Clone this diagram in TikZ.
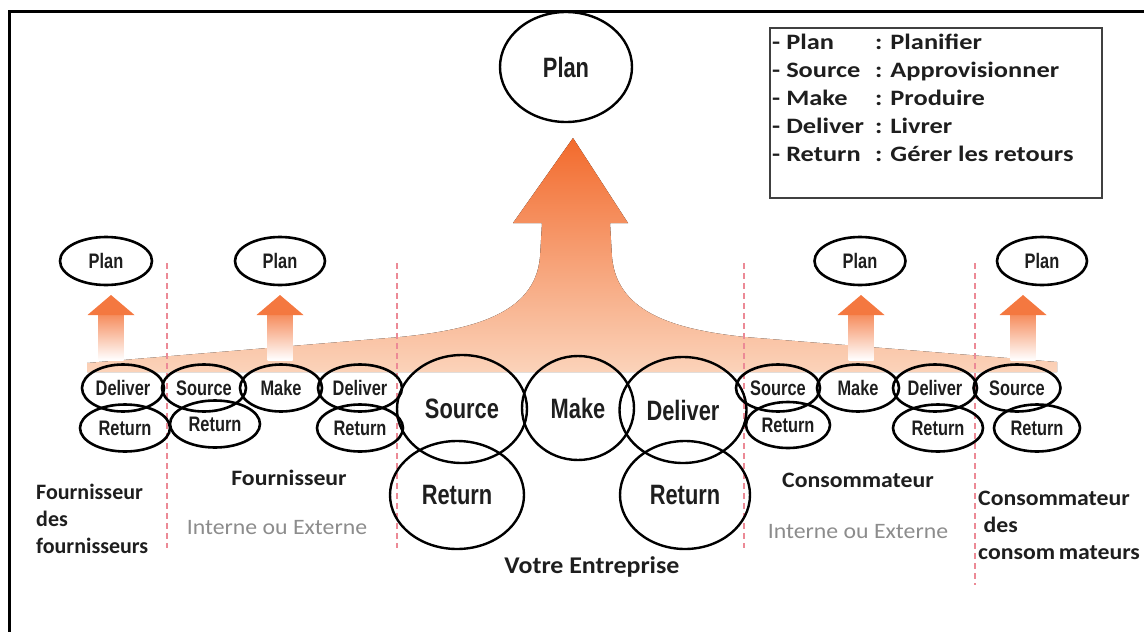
\documentclass[tikz,border=0pt]{standalone}
\usepackage{fontspec}
\setmainfont{Carlito}
\newfontfamily\narrowf[FakeStretch=0.78]{Liberation Sans}
\newfontfamily\capf[FakeStretch=1.08]{Carlito}
\newfontfamily\legf[FakeStretch=1.2]{Carlito}
\usetikzlibrary{shapes.geometric}
\definecolor{arrowtop}{HTML}{F26A2C}
\definecolor{arrowbot}{HTML}{FBD3BA}
\definecolor{dashred}{HTML}{EC8A96}
\definecolor{labelgray}{HTML}{8C8C8C}
\definecolor{ink}{HTML}{1E1E1E}
\definecolor{headcol}{HTML}{F47840}
\begin{document}
\begin{tikzpicture}[x=1pt,y=-1pt,
 ell/.style={ellipse, draw=black, line width=2.6pt, inner sep=0pt, text=ink, font=\narrowf\bfseries\fontsize{21}{21}\selectfont},
 bigell/.style={ell, line width=2.4pt, font=\narrowf\bfseries\fontsize{28}{28}\selectfont},
 caption/.style={font=\capf\bfseries\fontsize{22}{27}\selectfont, text=ink, inner sep=0pt},
 sub/.style={font=\capf\fontsize{22}{26}\selectfont, text=labelgray, inner sep=0pt},
 sepline/.style={dashred, line width=1.4pt, dash pattern=on 6pt off 4pt},
 bigarrow/.style={top color=arrowtop, bottom color=arrowbot, draw=none},
 shaftshade/.style={top color=headcol!85, bottom color=white, draw=none},
]
\useasboundingbox (0,0) rectangle (1144,632);
% frame
\draw[line width=3pt] (9,632) -- (9,11) -- (1144,11);
% big arrow / fan
\fill[bigarrow] (87,372) -- (87,363) -- (400,337) .. controls (470,330) and (535,315) .. (540,257) -- (542,223) -- (513,223) -- (573,138) -- (628,223) -- (610,223) -- (612,257) .. controls (617,315) and (680,330) .. (745,337) -- (1057,362) -- (1057,372) -- cycle;
% small arrows
\foreach \ax in {111,280,861,1023}{
 \shade[shaftshade] (\ax-12.5,314.5) rectangle (\ax+12.5,360);
 \fill[headcol] (\ax-23.5,315) -- (\ax,295) -- (\ax+23.5,315) -- cycle;
}
% separators
\draw[sepline] (167,263) -- (167,548);
\draw[sepline] (397,263) -- (397,548);
\draw[sepline] (744,263) -- (744,548);
\draw[sepline] (975,263) -- (975,585);
% plans
\node[bigell, minimum width=132pt, minimum height=110pt] (plan) at (566,67) {Plan};
\node[ell, minimum width=92pt, minimum height=48pt] (p1) at (106,261) {Plan};
\node[ell, minimum width=90pt, minimum height=48pt] (p2) at (280,261) {Plan};
\node[ell, minimum width=91pt, minimum height=48pt] (p3) at (860,261) {Plan};
\node[ell, minimum width=90pt, minimum height=48pt] (p4) at (1042,261) {Plan};
% small ellipses
\node[ell, minimum width=82pt, minimum height=47pt] (d1) at (123,388) {Deliver};
\node[ell, minimum width=90pt, minimum height=47pt] (r1) at (125,428) {Return};
\node[ell, minimum width=84pt, minimum height=47pt] (s2) at (204,388) {Source};
\node[ell, minimum width=90pt, minimum height=47pt] (r2) at (215,424) {Return};
\node[ell, minimum width=82pt, minimum height=47pt] (m2) at (281,388) {Make};
\node[ell, minimum width=84pt, minimum height=47pt] (d2) at (360,388) {Deliver};
\node[ell, minimum width=86pt, minimum height=47pt] (r3) at (360,428) {Return};
\node[ell, minimum width=84pt, minimum height=47pt] (s3) at (778,388) {Source};
\node[ell, minimum width=84pt, minimum height=46pt] (r4) at (788,425) {Return};
\node[ell, minimum width=82pt, minimum height=47pt] (m3) at (858,388) {Make};
\node[ell, minimum width=84pt, minimum height=47pt] (d3) at (935,388) {Deliver};
\node[ell, minimum width=90pt, minimum height=47pt] (r5) at (938,428) {Return};
\node[ell, minimum width=87pt, minimum height=47pt] (s4) at (1017,388) {Source};
\node[ell, minimum width=86pt, minimum height=47pt] (r6) at (1037,428) {Return};
% big ellipses
\node[bigell, minimum width=130pt, minimum height=108pt] (bs) at (462,409) {Source};
\node[bigell, minimum width=112pt, minimum height=104pt] (bm) at (578,408) {Make};
\node[bigell, minimum width=127pt, minimum height=106pt] (bd) at (683,410) {Deliver};
\node[bigell, minimum width=134pt, minimum height=108pt] (brl) at (457,495) {Return};
\node[bigell, minimum width=130pt, minimum height=108pt] (brr) at (685,495) {Return};
% captions
\node[caption, font=\bfseries\fontsize{22}{27}\selectfont, anchor=north west, align=left] (cff) at (36,484) {Fournisseur\\des\\fournisseurs};
\node[caption] (cf) at (289,478) {Fournisseur};
\node[sub] (cfi) at (277,528) {Interne ou Externe};
\node[caption, font=\capf\bfseries\fontsize{24}{27}\selectfont] (cve) at (592,567) {Votre Entreprise};
\node[caption] (cc) at (858,480) {Consommateur};
\node[sub] (cci) at (858,532) {Interne ou Externe};
\node[caption, anchor=north west, align=left] (ccc) at (978,491) {Consommateur\\\ des\\consom\,mateurs};
% legend
\draw[line width=2pt, black!75] (770,28) rectangle (1102,198);
\node[anchor=north west, align=left, inner sep=0pt, text=ink, font=\legf\bfseries\fontsize{22}{28}\selectfont] (leg) at (772,34) {%
\makebox[103pt][l]{- Plan}: Planifier\\
\makebox[103pt][l]{- Source}: Approvisionner\\
\makebox[103pt][l]{- Make}: Produire\\
\makebox[103pt][l]{- Deliver}: Livrer\\
\makebox[103pt][l]{- Return}: Gérer les retours};
\end{tikzpicture}
\end{document}
